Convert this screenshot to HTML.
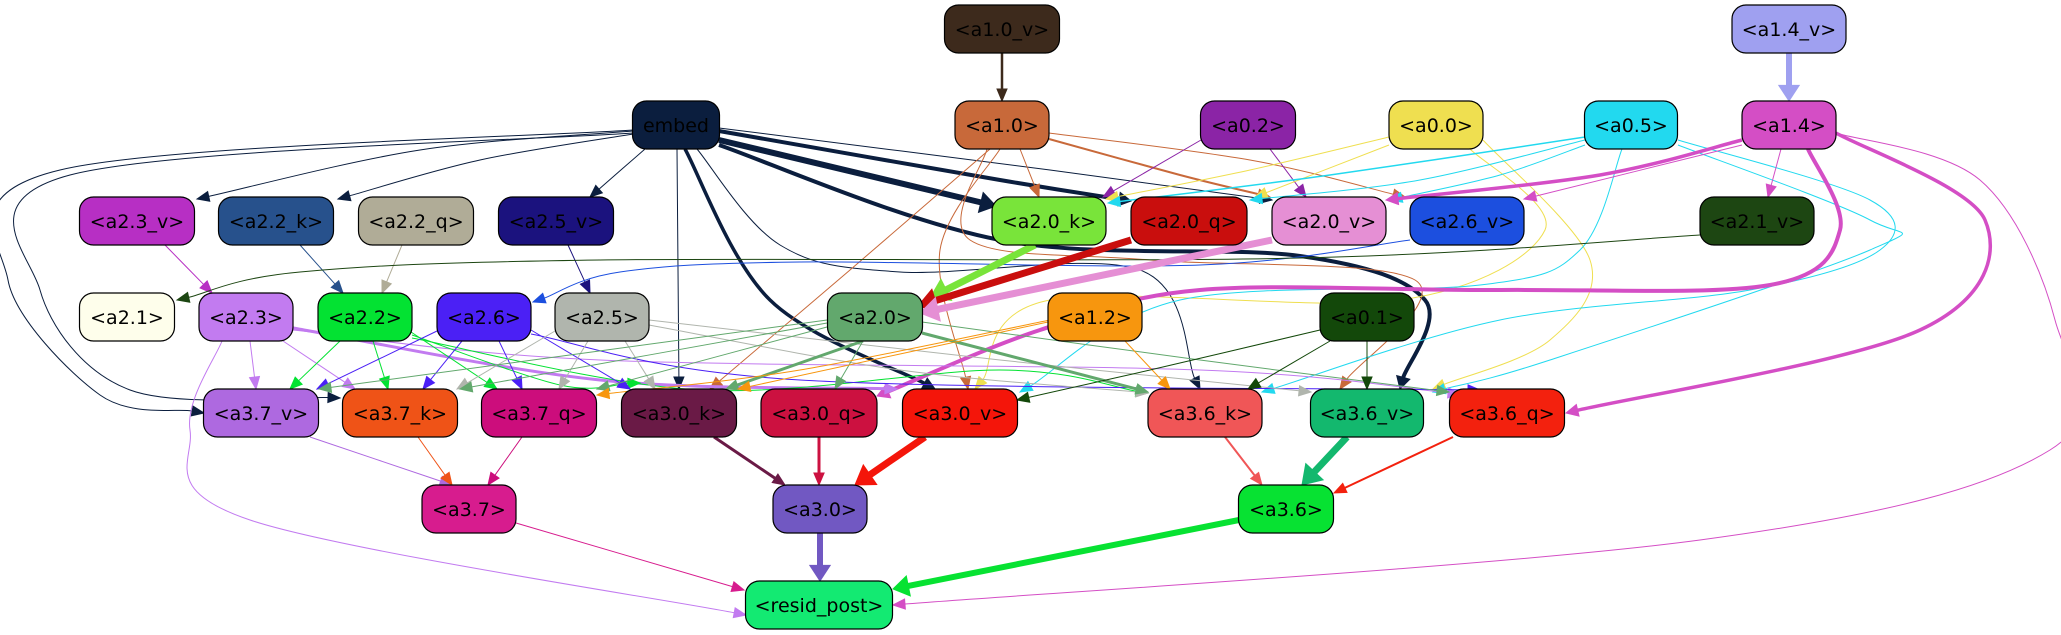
<!DOCTYPE html>
<html><head><meta charset="utf-8"><style>
html,body{margin:0;padding:0;background:#fff;width:2061px;height:635px;overflow:hidden}
svg{display:block}
text{font-family:"DejaVu Sans","Liberation Sans",sans-serif;font-size:19px}
</style></head><body>
<svg id="g" width="2061" height="635" viewBox="0 0 2061 635" xmlns="http://www.w3.org/2000/svg">
<g id="edges"></g>
<g id="nodes"></g>
</svg>
<script>
const NS="http://www.w3.org/2000/svg";
const nodeIds=["a1.0_v","a1.4_v","embed","a1.0","a0.2","a0.0","a0.5","a1.4","a2.3_v","a2.2_k","a2.2_q","a2.5_v","a2.0_k","a2.0_q","a2.0_v","a2.6_v","a2.1_v","a2.1","a2.3","a2.2","a2.6","a2.5","a2.0","a1.2","a0.1","a3.7_v","a3.7_k","a3.7_q","a3.0_k","a3.0_q","a3.0_v","a3.6_k","a3.6_v","a3.6_q","a3.7","a3.0","a3.6","resid_post"];
const nodeX=[1002,1789,676,1002,1248,1436,1631,1789,137,276,416,556,1049,1189,1329,1467,1757,127,246,365,484,602,875,1095,1367,261,400,539,679,819,960,1205,1367,1507,469,820,1286,819];
const nodeRow=[0,0,1,1,1,1,1,1,2,2,2,2,2,2,2,2,2,3,3,3,3,3,3,3,3,4,4,4,4,4,4,4,4,4,5,5,5,6];
const nodeW=[115,114,87,94,95,94,93,94,115,115,115,115,114,116,114,114,114,95,94,94,94,94,95,94,94,115,115,115,115,116,115,114,113,115,94,94,95,147];
const nodeFill=["#3d2a1c","#9fa0f0","#0b1e3e","#c8693a","#8b24a6","#efdf50","#22d9ef","#d44ec5","#b72fc4","#27518c","#b0ac97","#1b127e","#79e43a","#c90e0d","#e58fd4","#1c4fdf","#1d4612","#fefeeb","#c27bf0","#03e232","#4b20f5","#b0b5ad","#62a86d","#f7960e","#13480a","#ae69e0","#ef5317","#cc0d7c","#6a1a46","#cc1140","#f4150a","#f05657","#13b86e","#f3210e","#d71c8e","#7158c2","#07e232","#13ea72"];
const rowY=[29,125,221,317,413,509,605];
const N={};
nodeIds.forEach((id,i)=>{N[id]={x:nodeX[i],y:rowY[nodeRow[i]],w:nodeW[i],c:nodeFill[i]};});
const C={emb:"#0b1e3e",a10:"#c8693a",a02:"#8b24a6",a00:"#efdf50",a05:"#22d9ef",a14:"#d44ec5",a23:"#c27bf0",a22:"#03e232",a26:"#4b20f5",a25:"#b0b5ad",a20:"#62a86d",a12:"#f7960e",a01:"#13480a"};
const edges=[
["a1.0_v","a1.0","#3d2a1c",2.5],
["a1.4_v","a1.4","#9fa0f0",6],
["embed","a2.3_v",C.emb,1,[633,131],[197,199],[[420,150]]],
["embed","a2.2_k",C.emb,1,[633,134],[338,199],[[480,160]]],
["embed","a2.5_v",C.emb,1,[645,149],[590,197]],
["embed","a3.7_v",C.emb,1,[633,130],[204,413],[[60,170],[8,280],[100,395]]],
["embed","a3.7_k",C.emb,1,[633,133],[340,398],[[70,175],[40,290],[130,390]]],
["embed","a3.0_k",C.emb,1,[677,149],[679,389]],
["embed","a3.0_v",C.emb,3.5,[685,149],[935,389],[[770,300]]],
["embed","a2.0_k",C.emb,6,[719,140],[996,206]],
["embed","a2.0_q",C.emb,4,[719,131],[1131,201],[[1000,180]]],
["embed","a2.0_v",C.emb,1,[719,128],[1272,200],[[1050,170]]],
["embed","a3.6_k",C.emb,1,[697,149],[1200,389],[[780,245],[900,272],[1140,270]]],
["embed","a3.6_v",C.emb,4,[719,145],[1400,389],[[1000,240],[1300,256],[1425,300]]],
["a1.0","a2.0_k",C.a10,1,[1020,149],[1039,197]],
["a1.0","a2.0_q",C.a10,2,[1049,139],[1270,197],[[1180,175]]],
["a1.0","a2.0_v",C.a10,1,[1049,133],[1405,197],[[1250,160]]],
["a1.0","a3.0_k",C.a10,1,[990,149],[710,389],[[850,270]]],
["a1.0","a3.0_v",C.a10,1,[1000,149],[968,389],[[940,250]]],
["a1.0","a3.6_v",C.a10,1,[987,149],[1340,389],[[970,240],[1150,260],[1415,280]]],
["a0.2","a2.0_k",C.a02,1,[1201,140],[1103,197]],
["a0.2","a2.0_v",C.a02,1,[1270,149],[1306,197]],
["a0.0","a2.0_k",C.a00,1,[1389,137],[1106,199],[[1250,170]]],
["a0.0","a2.0_v",C.a00,1,[1389,145],[1255,197]],
["a0.0","a3.0_v",C.a00,1,[1470,149],[975,389],[[1545,230],[1400,300],[1050,300]]],
["a0.0","a3.6_q",C.a00,1,[1483,140],[1433,389],[[1590,260],[1550,340]]],
["a0.5","a2.0_k",C.a05,1.5,[1585,137],[1108,203],[[1330,175]]],
["a0.5","a2.0_q",C.a05,1,[1585,140],[1250,200],[[1420,180]]],
["a0.5","a2.0_v",C.a05,1,[1585,145],[1390,200],[[1500,175]]],
["a0.5","a3.0_v",C.a05,1,[1622,149],[1020,392],[[1580,250],[1480,285],[1180,300]]],
["a0.5","a3.6_k",C.a05,1,[1678,140],[1262,392],[[1870,200],[1880,250],[1750,290],[1500,320]]],
["a0.5","a3.6_q",C.a05,1,[1678,145],[1433,392],[[1870,220],[1870,250],[1550,360]]],
["a1.4","a2.0_v",C.a14,3.5,[1742,140],[1386,200],[[1600,175]]],
["a1.4","a2.6_v",C.a14,1,[1742,145],[1524,199]],
["a1.4","a2.1_v",C.a14,1,[1781,149],[1768,197]],
["a1.4","a3.0_q",C.a14,4,[1808,149],[877,396],[[1840,230],[1770,285],[1500,290],[1200,290],[1040,330]]],
["a1.4","a3.6_q",C.a14,3.5,[1836,133],[1566,413],[[1985,220],[1920,330]]],
["a1.4","resid_post",C.a14,1,[1836,133],[893,605],[[1980,180],[2055,320],[2050,450],[1700,540]]],
["a2.3_v","a2.3","#b72fc4",1,[165,245],[212,293]],
["a2.2_k","a2.2","#27518c",1,[300,245],[343,293]],
["a2.2_q","a2.2","#b0ac97",1,[402,245],[382,293]],
["a2.5_v","a2.5","#1b127e",1,[568,245],[590,293]],
["a2.6_v","a2.6","#1c4fdf",1,[1410,240],[533,302],[[1200,265],[800,262],[620,272]]],
["a2.1_v","a2.1","#1d4612",1,[1700,235],[177,300],[[1300,258],[600,260],[300,272]]],
["a2.0_k","a2.0","#79e43a",7,[1035,245],[930,298]],
["a2.0_q","a2.0","#c90e0d",7,[1131,240],[918,306]],
["a2.0_v","a2.0","#e58fd4",7,[1272,240],[920,313]],
["a2.3","a3.7_v",C.a23,1,[250,341],[256,389]],
["a2.3","a3.7_k",C.a23,1,[283,341],[355,389]],
["a2.3","a3.7_q",C.a23,3,[293,328],[897,389],[[600,380]]],
["a2.3","a3.0_q",C.a23,1,[293,330],[1460,394],[[600,360],[1200,370]]],
["a2.3","resid_post",C.a23,1,[222,341],[746,615],[[190,430],[250,520]]],
["a2.2","a3.7_v",C.a22,1,[340,341],[290,389]],
["a2.2","a3.7_k",C.a22,1,[373,341],[388,389]],
["a2.2","a3.7_q",C.a22,1,[408,330],[497,389]],
["a2.2","a3.0_q",C.a22,1,[412,335],[640,383],[[560,385]]],
["a2.2","a3.6_k",C.a22,1,[412,338],[1148,393],[[700,390],[1000,370]]],
["a2.6","a3.7_v",C.a26,1,[437,331],[317,389]],
["a2.6","a3.7_k",C.a26,1,[462,341],[423,389]],
["a2.6","a3.7_q",C.a26,1,[499,341],[522,389]],
["a2.6","a3.0_k",C.a26,1,[531,330],[630,389]],
["a2.6","a3.0_q",C.a26,1,[531,334],[1480,390],[[800,380]]],
["a2.5","a3.7_k",C.a25,1,[555,331],[457,389]],
["a2.5","a3.7_q",C.a25,1,[588,341],[559,389]],
["a2.5","a3.0_k",C.a25,1,[625,341],[655,389]],
["a2.5","a3.6_k",C.a25,1,[649,325],[1148,393],[[900,370]]],
["a2.5","a3.6_v",C.a25,1,[649,320],[1311,392],[[1000,360]]],
["a2.0","a3.0_k",C.a20,3,[863,341],[726,389]],
["a2.0","a3.0_q",C.a20,1,[863,341],[835,389]],
["a2.0","a3.7_k",C.a20,1,[827,323],[460,389]],
["a2.0","a3.7_q",C.a20,1,[827,327],[597,389]],
["a2.0","a3.7_v",C.a20,1,[827,320],[319,389]],
["a2.0","a3.6_k",C.a20,3,[922,333],[1148,392]],
["a2.0","a3.6_q",C.a20,1,[922,322],[1449,392],[[1200,360]]],
["a1.2","a3.0_k",C.a12,1,[1048,322],[738,389]],
["a1.2","a3.6_k",C.a12,1,[1125,341],[1170,389]],
["a1.2","a3.7_q",C.a12,1,[1050,320],[597,395],[[800,370]]],
["a0.1","a3.6_k",C.a01,1,[1330,341],[1248,389]],
["a0.1","a3.6_v",C.a01,1,[1367,341],[1367,389]],
["a0.1","a3.0_v",C.a01,1,[1320,330],[1017,400],[[1150,370]]],
["a3.7_v","a3.7","#ae69e0",1,[310,437],[452,485]],
["a3.7_k","a3.7","#ef5317",1,[418,437],[452,485]],
["a3.7_q","a3.7","#cc0d7c",1,[522,437],[488,485]],
["a3.0_k","a3.0","#6a1a46",3,[714,437],[785,485]],
["a3.0_q","a3.0","#cc1140",3,[819,437],[819,485]],
["a3.0_v","a3.0","#f4150a",7,[925,437],[855,485]],
["a3.6_k","a3.6","#f05657",2,[1225,437],[1262,485]],
["a3.6_v","a3.6","#13b86e",7,[1347,437],[1302,485]],
["a3.6_q","a3.6","#f3210e",2,[1453,437],[1334,493]],
["a3.7","resid_post","#d71c8e",1,[516,523],[744,590]],
["a3.0","resid_post","#7158c2",6,[820,533],[820,581]],
["a3.6","resid_post","#07e232",6,[1239,520],[893,589]]
];
function cr(p){
  let d=`M${p[0][0]},${p[0][1]}`;
  for(let i=0;i<p.length-1;i++){
    const p0=p[Math.max(0,i-1)],p1=p[i],p2=p[i+1],p3=p[Math.min(p.length-1,i+2)];
    const c1=[p1[0]+(p2[0]-p0[0])/6,p1[1]+(p2[1]-p0[1])/6];
    const c2=[p2[0]-(p3[0]-p1[0])/6,p2[1]-(p3[1]-p1[1])/6];
    d+=` C${c1[0]},${c1[1]} ${c2[0]},${c2[1]} ${p2[0]},${p2[1]}`;
  }
  return d;
}
const eg=document.getElementById('edges');
edges.forEach(e=>{
  const [f,t,col,w]=e;
  const s=e[4]||[N[f].x,N[f].y+24];
  const en=e[5]||[N[t].x,N[t].y-24];
  const wp=e[6]||[];
  const pts=[s,...wp,en];
  const prev=pts[pts.length-2];
  let dx=en[0]-prev[0],dy=en[1]-prev[1];const L=Math.hypot(dx,dy)||1;dx/=L;dy/=L;
  const al=Math.max(12,w*2.6),aw=Math.max(5,w*1.7);
  const tip=en, base=[en[0]-dx*al,en[1]-dy*al];
  pts[pts.length-1]=base;
  const p=document.createElementNS(NS,'path');
  p.setAttribute('d',cr(pts));p.setAttribute('fill','none');p.setAttribute('stroke',col);p.setAttribute('stroke-width',w);
  
  
  eg.appendChild(p);
  const a=document.createElementNS(NS,'polygon');
  a.setAttribute('points',`${tip[0]},${tip[1]} ${base[0]-dy*aw},${base[1]+dx*aw} ${base[0]+dy*aw},${base[1]-dx*aw}`);
  a.setAttribute('fill',col);a.setAttribute('stroke',col);
  
  
  eg.appendChild(a);
});
const ng=document.getElementById('nodes');
nodeIds.forEach(id=>{
  const n=N[id];
  const g=document.createElementNS(NS,'g');
  
  
  const r=document.createElementNS(NS,'rect');
  r.setAttribute('x',n.x-n.w/2);r.setAttribute('y',n.y-24);r.setAttribute('width',n.w);r.setAttribute('height',48);
  r.setAttribute('rx',14);r.setAttribute('fill',n.c);r.setAttribute('stroke','#000');r.setAttribute('stroke-width',1.2);
  g.appendChild(r);
  const tx=document.createElementNS(NS,'text');
  tx.setAttribute('x',n.x);tx.setAttribute('y',n.y+7);tx.setAttribute('text-anchor','middle');
  tx.textContent=id==='embed'?'embed':'<'+id+'>';
  g.appendChild(tx);
  ng.appendChild(g);
});
</script>
</body></html>
